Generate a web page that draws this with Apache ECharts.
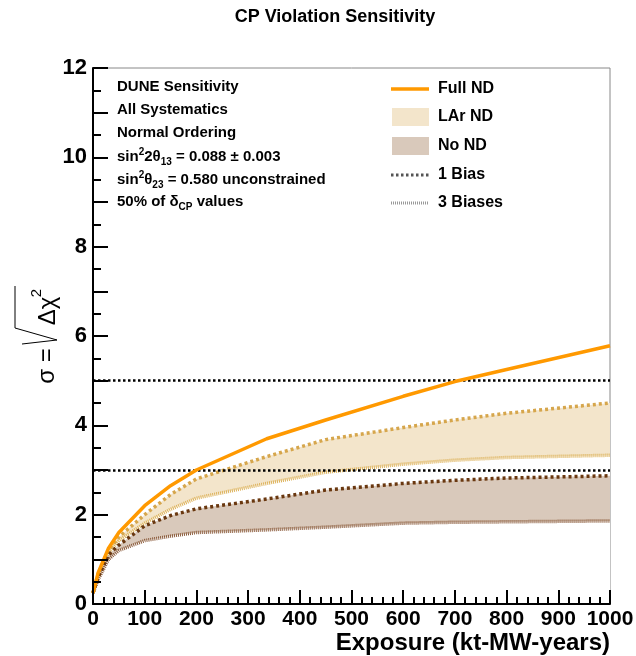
<!DOCTYPE html>
<html>
<head>
<meta charset="utf-8">
<script src="https://cdn.jsdelivr.net/npm/echarts@6/dist/echarts.min.js"></script>
<style>
  html, body { margin: 0; padding: 0; background: #fff; }
  #main { width: 636px; height: 656px; }
</style>
</head>
<body>
<div id="main"></div>
<script>
var FONT = '"Liberation Sans", Arial, Helvetica, sans-serif';

// exposure in kt-MW-years
var exposure = [0, 10, 30, 50, 100, 150, 200, 336, 450, 600, 700, 800, 1000];
// sigma values
var fullND    = [0.25, 0.7, 1.25, 1.6, 2.2, 2.65, 3.0, 3.7, 4.12, 4.65, 4.98, 5.25, 5.78];
var larND1    = [0.25, 0.68, 1.2, 1.5, 2.0, 2.45, 2.8, 3.3, 3.68, 3.95, 4.12, 4.27, 4.5];
var larND3    = [0.25, 0.65, 1.15, 1.42, 1.81, 2.12, 2.37, 2.7, 2.95, 3.13, 3.22, 3.28, 3.33];
var noND1     = [0.25, 0.6, 1.1, 1.32, 1.75, 1.98, 2.13, 2.35, 2.55, 2.7, 2.77, 2.82, 2.87];
var noND3     = [0.25, 0.55, 1.0, 1.2, 1.42, 1.52, 1.6, 1.66, 1.72, 1.81, 1.83, 1.84, 1.86];
var thresholds = [3, 5];
var yTicks = [0, 2, 4, 6, 8, 10, 12];

function pairs(vals) {
    return exposure.map(function (x, i) { return [x, vals[i]]; });
}

var dom = document.getElementById('main');
var myChart = echarts.init(dom, null, { renderer: 'canvas' });

function lineSeries(name, vals, color, width, dash, z) {
    return {
        name: name,
        type: 'line',
        data: pairs(vals),
        symbol: 'none',
        silent: true,
        z: z,
        lineStyle: { color: color, width: width, type: dash }
    };
}
// filled area from the curve down to 0 (bands = upper fill, then white under lower edge)
function fillSeries(name, vals, color, z) {
    return {
        name: name,
        type: 'line',
        data: pairs(vals),
        symbol: 'none',
        silent: true,
        z: z,
        lineStyle: { width: 0, opacity: 0 },
        areaStyle: { color: color, opacity: 1, origin: 'start' }
    };
}

var tickStyle = { color: '#000', width: 2 };

var option = {
    animation: false,
    backgroundColor: '#fff',
    textStyle: { fontFamily: FONT },
    grid: {
        left: 93, right: 26, top: 68, bottom: 52,
        containLabel: false,
        outerBoundsMode: 'none',
        show: true, borderColor: '#888', borderWidth: 1
    },
    xAxis: {
        type: 'value',
        z: 10,
        min: 0, max: 1000, interval: 100,
        axisLine: { lineStyle: tickStyle },
        axisTick: { inside: true, length: 14, lineStyle: tickStyle },
        minorTick: { show: true, splitNumber: 5, length: 7, lineStyle: tickStyle },
        axisLabel: {
            color: '#000', fontSize: 21, fontWeight: 'bold', fontFamily: FONT, margin: 5,
            hideOverlap: false,
            formatter: function (v) { return String(v); }
        },
        splitLine: { show: false },
        name: 'Exposure (kt-MW-years)',
        nameLocation: 'end',
        nameGap: 0,
        nameMoveOverlap: false,
        nameTextStyle: {
            color: '#000', fontSize: 24, fontWeight: 'bold', fontFamily: FONT,
            align: 'right', verticalAlign: 'top', padding: [27, 0, 0, 0]
        }
    },
    yAxis: {
        type: 'value',
        z: 10,
        min: 0, max: 12, interval: 1,
        axisLine: { lineStyle: tickStyle },
        axisTick: { inside: true, length: 15, lineStyle: tickStyle },
        minorTick: { show: true, splitNumber: 2, length: 8, lineStyle: tickStyle },
        axisLabel: {
            color: '#000', fontSize: 22, fontWeight: 'bold', fontFamily: FONT, margin: 6,
            formatter: function (v) { return yTicks.indexOf(v) >= 0 ? String(v) : ''; }
        },
        splitLine: { show: false }
    },
    series: [
        fillSeries('LAr ND', larND1, '#F3E5CB', 1),
        fillSeries('LAr mask', larND3, '#FFFFFF', 1),
        fillSeries('No ND', noND1, '#D9C9BB', 1),
        fillSeries('No ND mask', noND3, '#FFFFFF', 1),
        lineSeries('LAr ND 3 Biases', larND3, '#DDB25A', 3.5, [1, 1], 3),
        lineSeries('No ND 3 Biases', noND3, '#8A5A3A', 3.5, [1, 1], 3),
        lineSeries('LAr ND 1 Bias', larND1, '#D6A64C', 3.5, [3, 3], 4),
        lineSeries('No ND 1 Bias', noND1, '#6A3810', 3.5, [3, 3], 4),
        {
            name: 'Full ND', type: 'line', data: pairs(fullND),
            symbol: 'none', silent: true, z: 6,
            lineStyle: { color: '#FF9900', width: 3.5 },
            markLine: {
                silent: true, symbol: 'none', label: { show: false },
                lineStyle: { color: '#000', width: 2.5, type: [2.5, 2.5] },
                data: thresholds.map(function (t) { return { yAxis: t }; })
            }
        }
    ],
    graphic: [
        {
            type: 'text', x: 335, y: 17,
            style: {
                text: 'CP Violation Sensitivity', fill: '#000', font: 'bold 18px ' + FONT,
                align: 'center', verticalAlign: 'middle'
            }
        },
        // y axis title: sigma = sqrt(delta chi^2)
        {
            type: 'text', x: 47, y: 366, rotation: Math.PI / 2,
            style: { text: 'σ =', fill: '#000', font: '24px ' + FONT, align: 'center', verticalAlign: 'middle' }
        },
        {
            type: 'text', x: 48, y: 311, rotation: Math.PI / 2,
            style: { text: 'Δχ', fill: '#000', font: '24px ' + FONT, align: 'center', verticalAlign: 'middle' }
        },
        {
            type: 'text', x: 37, y: 293, rotation: Math.PI / 2,
            style: { text: '2', fill: '#000', font: '15px ' + FONT, align: 'center', verticalAlign: 'middle' }
        },
        {
            type: 'polyline',
            shape: { points: [[22, 344], [57, 340], [15, 328], [15, 286]] },
            style: { stroke: '#000', lineWidth: 1, fill: null }
        }
    ]
};

// text block in the top left
var infoLines = [
    'DUNE Sensitivity',
    'All Systematics',
    'Normal Ordering',
    'sin{sup|2}2θ{sub|13} = 0.088 ± 0.003',
    'sin{sup|2}θ{sub|23} = 0.580 unconstrained',
    '50% of δ{sub|CP} values'
];
var infoY = [87, 110, 133, 157, 180, 202];
infoLines.forEach(function (t, i) {
    option.graphic.push({
        type: 'text', x: 117, y: infoY[i],
        style: {
            text: t, fill: '#000', fontSize: 15, fontWeight: 'bold', fontFamily: FONT,
            lineHeight: 20, verticalAlign: 'middle',
            rich: {
                sup: { fontSize: 10, fontWeight: 'bold', fontFamily: FONT, lineHeight: 8, verticalAlign: 'top' },
                sub: { fontSize: 10, fontWeight: 'bold', fontFamily: FONT, lineHeight: 10, verticalAlign: 'bottom' }
            }
        }
    });
});

// legend, drawn by hand like the ROOT one
var legendItems = [
    { label: 'Full ND', kind: 'line', color: '#FF9900', width: 3.5, dash: null, y: 89 },
    { label: 'LAr ND', kind: 'box', color: '#F3E5CB', y: 117 },
    { label: 'No ND', kind: 'box', color: '#D9C9BB', y: 146 },
    { label: '1 Bias', kind: 'line', color: '#555', width: 3, dash: [2.5, 2.5], y: 175 },
    { label: '3 Biases', kind: 'line', color: '#999', width: 3, dash: [1, 1], y: 203 }
];
legendItems.forEach(function (it) {
    if (it.kind === 'box') {
        option.graphic.push({
            type: 'rect', shape: { x: 392, y: it.y - 9, width: 37, height: 18 },
            style: { fill: it.color }
        });
    } else {
        option.graphic.push({
            type: 'line', shape: { x1: 391, y1: it.y, x2: 429, y2: it.y },
            style: { stroke: it.color, lineWidth: it.width, lineDash: it.dash }
        });
    }
    option.graphic.push({
        type: 'text', x: 438, y: it.y,
        style: { text: it.label, fill: '#000', font: 'bold 16px ' + FONT, verticalAlign: 'middle' }
    });
});

myChart.setOption(option, true);
</script>
</body>
</html>
